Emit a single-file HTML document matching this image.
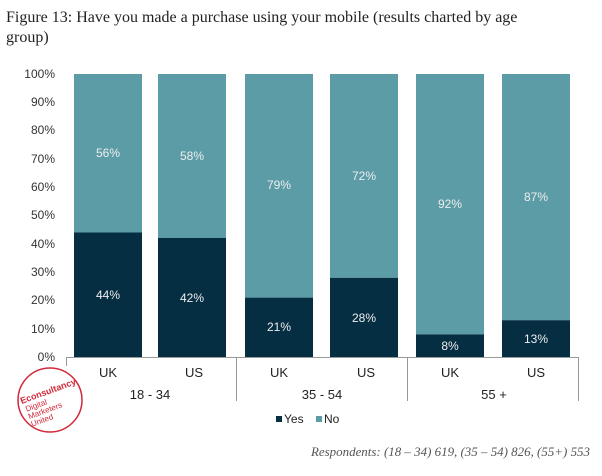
<!DOCTYPE html>
<html><head><meta charset="utf-8"><style>
body{margin:0;background:#fff;width:602px;height:471px;overflow:hidden}
</style></head><body>
<svg width="602" height="471" xmlns="http://www.w3.org/2000/svg" font-family="Liberation Sans, sans-serif">
<text x="6" y="22" font-family="Liberation Serif, serif" font-size="16" fill="#222">Figure 13: Have you made a purchase using your mobile (results charted by age</text>
<text x="6" y="42" font-family="Liberation Serif, serif" font-size="16" fill="#222">group)</text>
<g font-size="12" fill="#333" text-anchor="end">
<text x="55" y="78">100%</text><text x="55" y="106">90%</text><text x="55" y="134">80%</text><text x="55" y="163">70%</text><text x="55" y="191">60%</text><text x="55" y="219">50%</text><text x="55" y="248">40%</text><text x="55" y="276">30%</text><text x="55" y="304">20%</text><text x="55" y="333">10%</text><text x="55" y="361">0%</text>
</g>
<g fill="#5b9ca6">
<rect x="74" y="74" width="68" height="158.5"/><rect x="158" y="74" width="68" height="164"/>
<rect x="245" y="74" width="68" height="223.6"/><rect x="330" y="74" width="68" height="203.8"/>
<rect x="416" y="74" width="68" height="260.4"/><rect x="502" y="74" width="68" height="246.2"/>
</g>
<g fill="#062e43">
<rect x="74" y="232.5" width="68" height="124.5"/><rect x="158" y="238" width="68" height="119"/>
<rect x="245" y="297.6" width="68" height="59.4"/><rect x="330" y="277.8" width="68" height="79.2"/>
<rect x="416" y="334.4" width="68" height="22.6"/><rect x="502" y="320.2" width="68" height="36.8"/>
</g>
<g font-size="12" fill="#eee" text-anchor="middle">
<text x="108" y="157">56%</text><text x="192" y="160">58%</text><text x="279" y="189">79%</text><text x="364" y="180">72%</text><text x="450" y="208">92%</text><text x="536" y="201">87%</text>
<text x="108" y="299">44%</text><text x="192" y="302">42%</text><text x="279" y="331">21%</text><text x="364" y="322">28%</text><text x="450" y="350">8%</text><text x="536" y="343">13%</text>
</g>
<g stroke="#999" stroke-width="1">
<line x1="66" y1="357.5" x2="578" y2="357.5"/>
<line x1="66.5" y1="357" x2="66.5" y2="366"/>
<line x1="236.5" y1="357" x2="236.5" y2="401"/>
<line x1="407.5" y1="357" x2="407.5" y2="401"/>
<line x1="578.5" y1="357" x2="578.5" y2="401"/>
</g>
<g font-size="13" fill="#222" text-anchor="middle">
<text x="108" y="377">UK</text><text x="194" y="377">US</text><text x="279" y="377">UK</text><text x="366" y="377">US</text><text x="450" y="377">UK</text><text x="536" y="377">US</text>
<text x="150" y="399">18 - 34</text><text x="322" y="399">35 - 54</text><text x="494" y="399">55 +</text>
</g>
<rect x="276" y="416" width="6" height="6" fill="#062e43"/>
<text x="284" y="423" font-size="12" fill="#222">Yes</text>
<rect x="316" y="416" width="6" height="6" fill="#5b9ca6"/>
<text x="324" y="423" font-size="12" fill="#222">No</text>
<circle cx="50" cy="400" r="32" fill="none" stroke="#d2283a" stroke-width="1.5"/>
<g transform="rotate(-20 50 400)" fill="#d2283a" font-size="8">
<text x="22" y="394" font-weight="bold" font-size="9">Econsultancy</text>
<text x="24" y="403">Digital</text><text x="24" y="411">Marketers</text><text x="24" y="419">United</text>
</g>
<text x="311" y="456" textLength="279" lengthAdjust="spacingAndGlyphs" font-family="Liberation Serif, serif" font-style="italic" font-size="13" fill="#555">Respondents: (18 – 34) 619, (35 – 54) 826, (55+) 553</text>
</svg>
</body></html>
